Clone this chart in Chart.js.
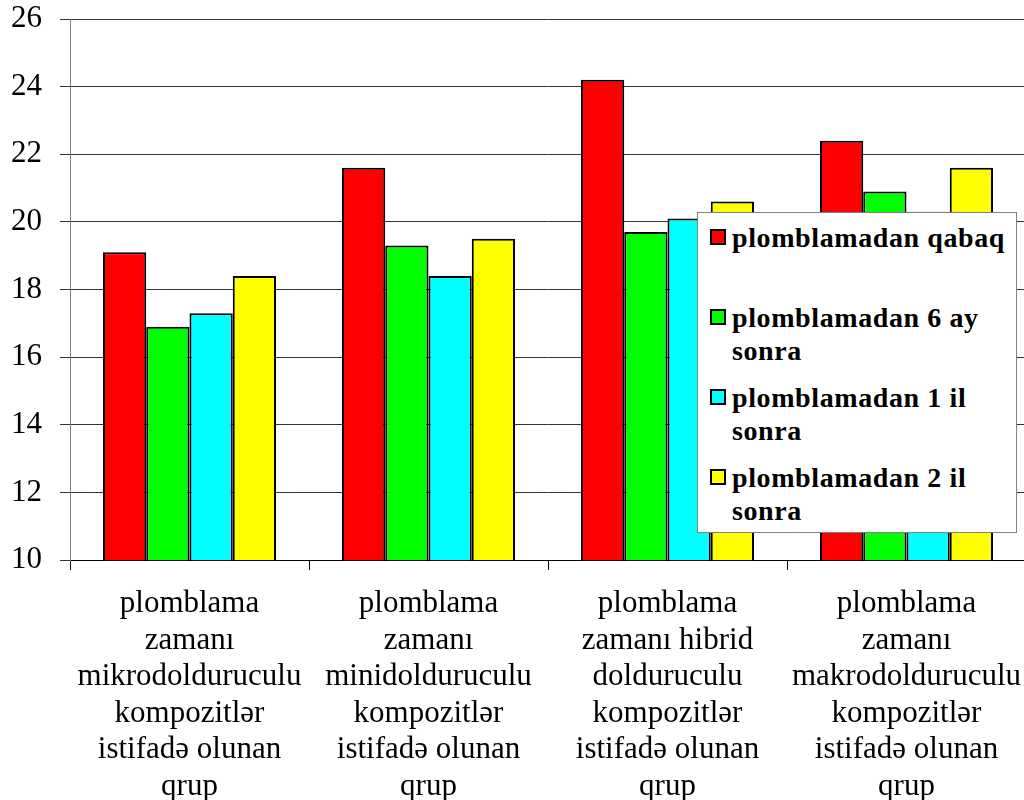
<!DOCTYPE html>
<html>
<head>
<meta charset="utf-8">
<script src="https://cdn.jsdelivr.net/npm/chart.js@4"></script>
<style>
  body { margin: 0; overflow: hidden; background: #fff; }
  #wrap { position: relative; width: 1030px; height: 800px; }
  #legendBox {
    position: absolute; left: 697px; top: 212px; width: 318px; height: 319px;
    background: #fff; border: 1px solid #808080;
    font-weight: bold; font-size: 28px; letter-spacing: 0.6px;
  }
  .entry { position: absolute; left: 34px; width: 278px; line-height: 33px; }
  .swatch { position: absolute; left: -22px; top: 8px; width: 12px; height: 12px; border: 2px solid #000; }
</style>
</head>
<body>
<div id="wrap">
  <canvas id="barChart" width="1030" height="800"></canvas>
  <div id="legendBox" style="font-family:'Liberation Serif'"></div>
</div>
<script>
// chart data
const categories = [
  ["plomblama", "zamanı", "mikrodolduruculu", "kompozitlər", "istifadə olunan", "qrup"],
  ["plomblama", "zamanı", "minidolduruculu", "kompozitlər", "istifadə olunan", "qrup"],
  ["plomblama", "zamanı hibrid", "dolduruculu", "kompozitlər", "istifadə olunan", "qrup"],
  ["plomblama", "zamanı", "makrodolduruculu", "kompozitlər", "istifadə olunan", "qrup"],
];
const seriesNames = [
  "plomblamadan qabaq",
  "plomblamadan 6 ay sonra",
  "plomblamadan 1 il sonra",
  "plomblamadan 2 il sonra",
];
const beforeFilling = [19.1, 21.6, 24.2, 22.4];
const after6Months = [16.9, 19.3, 19.7, 20.9];
const after1Year = [17.3, 18.4, 20.1, 20.3];
const after2Years = [18.4, 19.5, 20.6, 21.6];
const seriesColors = ["#FF0000", "#00FF00", "#00FFFF", "#FFFF00"];
const yMin = 10;
const yMax = 26;
const yStep = 2;

const serif = "Liberation Serif";
Chart.defaults.font.family = serif;
const seriesValues = [beforeFilling, after6Months, after1Year, after2Years];

const ctx = document.getElementById("barChart").getContext("2d");
new Chart(ctx, {
  type: "bar",
  data: {
    labels: categories,
    datasets: seriesValues.map((vals, i) => ({
      label: seriesNames[i],
      data: vals,
      backgroundColor: seriesColors[i],
      borderColor: "#000",
      borderWidth: 2,
      borderSkipped: false,
      categoryPercentage: 0.724,
      barPercentage: 1.0,
    })),
  },
  options: {
    responsive: false,
    animation: false,
    layout: { padding: { top: 19, right: 4, left: 0, bottom: 0 } },
    plugins: { legend: { display: false }, tooltip: { enabled: false } },
    scales: {
      x: {
        grid: { drawOnChartArea: false, drawTicks: true, tickLength: 10, color: "#000", offset: true },
        border: { color: "#000", width: 1 },
        ticks: {
          color: "#000",
          padding: 16,
          maxRotation: 0,
          autoSkip: false,
          font: { family: serif, size: 31, lineHeight: 1.177 },
        },
        afterFit: (scale) => {
          scale.height = 240;
          // the last label runs off the edge in the original, so no extra side room
          scale.paddingLeft = 0;
          scale.paddingRight = 0;
        },
      },
      y: {
        min: yMin,
        max: yMax,
        grid: { color: "#333", lineWidth: 1, tickLength: 10 },
        border: { color: "#808080", width: 1 },
        ticks: {
          stepSize: yStep,
          color: "#000",
          padding: 18,
          font: { family: serif, size: 31 },
        },
        afterFit: (scale) => {
          scale.width = 70;
          scale.paddingTop = 0;
          scale.paddingBottom = 0;
        },
      },
    },
  },
});

// legend drawn as html box inside the plot, like the original
const legendBox = document.getElementById("legendBox");
seriesNames.forEach((name, i) => {
  const entry = document.createElement("div");
  entry.className = "entry";
  entry.style.top = (8 + i * 80) + "px";
  entry.innerHTML = '<span class="swatch" style="background:' + seriesColors[i] + '"></span>' + name;
  legendBox.appendChild(entry);
});
</script>
</body>
</html>
